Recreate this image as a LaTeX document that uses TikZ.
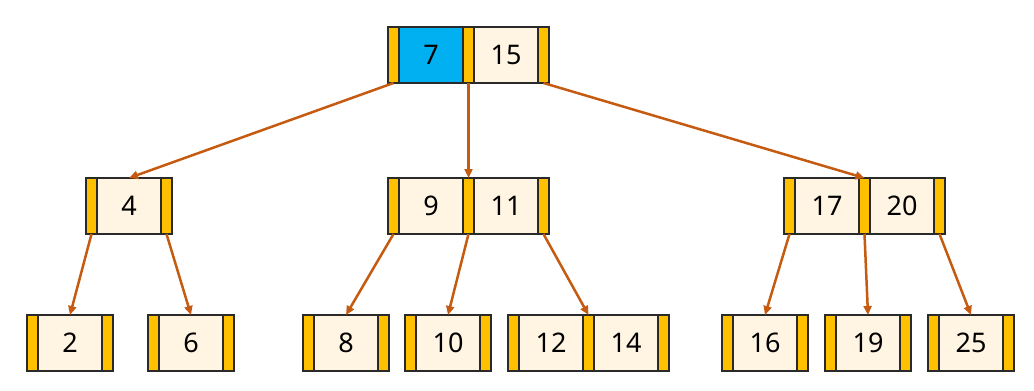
\documentclass[tikz,border=0pt]{standalone}
\usepackage{fontspec}
\setmainfont{Noto Sans}
\usetikzlibrary{positioning,arrows.meta}

\definecolor{ptrgold}{HTML}{FFC000}
\definecolor{keycream}{HTML}{FFF5E2}
\definecolor{keyblue}{HTML}{00B0F0}
\definecolor{linkbrown}{HTML}{C55A11}
\definecolor{edgegray}{HTML}{2A2A2A}

\tikzset{
    ptrbar/.style={draw=edgegray, line width=1.5pt, fill=ptrgold, minimum width=11pt, minimum height=56pt, inner sep=0pt, outer sep=0pt, anchor=north west},
    keybox/.style={draw=edgegray, line width=1.5pt, fill=keycream, minimum width=64pt, minimum height=56pt, inner sep=0pt, outer sep=0pt, font=\fontsize{27}{30}\selectfont},
    link/.style={draw=linkbrown, line width=2.5pt, -{Triangle[length=9pt,width=8pt]}}
}

\begin{document}
\begin{tikzpicture}[x=1pt, y=-1pt]
    \useasboundingbox (0,0) rectangle (1034,391);

    % Radice
    \node[ptrbar] (r-p0) at (388,27) {};
    \node[keybox, fill=keyblue, right=0pt of r-p0] (r-k1) {7};
    \node[ptrbar, right=0pt of r-k1] (r-p1) {};
    \node[keybox, right=0pt of r-p1] (r-k2) {15};
    \node[ptrbar, right=0pt of r-k2] (r-p2) {};

    % Livello intermedio
    \node[ptrbar] (a-p0) at (86,178) {};
    \node[keybox, right=0pt of a-p0] (a-k1) {4};
    \node[ptrbar, right=0pt of a-k1] (a-p1) {};

    \node[ptrbar] (b-p0) at (388,178) {};
    \node[keybox, right=0pt of b-p0] (b-k1) {9};
    \node[ptrbar, right=0pt of b-k1] (b-p1) {};
    \node[keybox, right=0pt of b-p1] (b-k2) {11};
    \node[ptrbar, right=0pt of b-k2] (b-p2) {};

    \node[ptrbar] (c-p0) at (784,178) {};
    \node[keybox, right=0pt of c-p0] (c-k1) {17};
    \node[ptrbar, right=0pt of c-k1] (c-p1) {};
    \node[keybox, right=0pt of c-p1] (c-k2) {20};
    \node[ptrbar, right=0pt of c-k2] (c-p2) {};

    % Foglie
    \foreach \n/\x/\k in {l2/27/2, l6/148/6, l8/303/8, l10/405/10, l16/722/16, l19/825/19, l25/928/25} {
        \node[ptrbar] (\n-p0) at (\x,315) {};
        \node[keybox, right=0pt of \n-p0] (\n-k1) {\k};
        \node[ptrbar, right=0pt of \n-k1] (\n-p1) {};
    }
    \node[ptrbar] (l12-p0) at (508,315) {};
    \node[keybox, right=0pt of l12-p0] (l12-k1) {12};
    \node[ptrbar, right=0pt of l12-k1] (l12-p1) {};
    \node[keybox, right=0pt of l12-p1] (l12-k2) {14};
    \node[ptrbar, right=0pt of l12-k2] (l12-p2) {};

    % Puntatori
    \draw[link] (r-p0.south) -- (a-k1.north);
    \draw[link] (r-p1.south) -- (b-p1.north);
    \draw[link] (r-p2.south) -- (c-p1.north);

    \draw[link] (a-p0.south) -- (l2-k1.north);
    \draw[link] (a-p1.south) -- (l6-k1.north);

    \draw[link] (b-p0.south) -- (l8-k1.north);
    \draw[link] (b-p1.south) -- (l10-k1.north);
    \draw[link] (b-p2.south) -- (l12-p1.north);

    \draw[link] (c-p0.south) -- (l16-k1.north);
    \draw[link] (c-p1.south) -- (l19-k1.north);
    \draw[link] (c-p2.south) -- (l25-k1.north);

\end{tikzpicture}
\end{document}
